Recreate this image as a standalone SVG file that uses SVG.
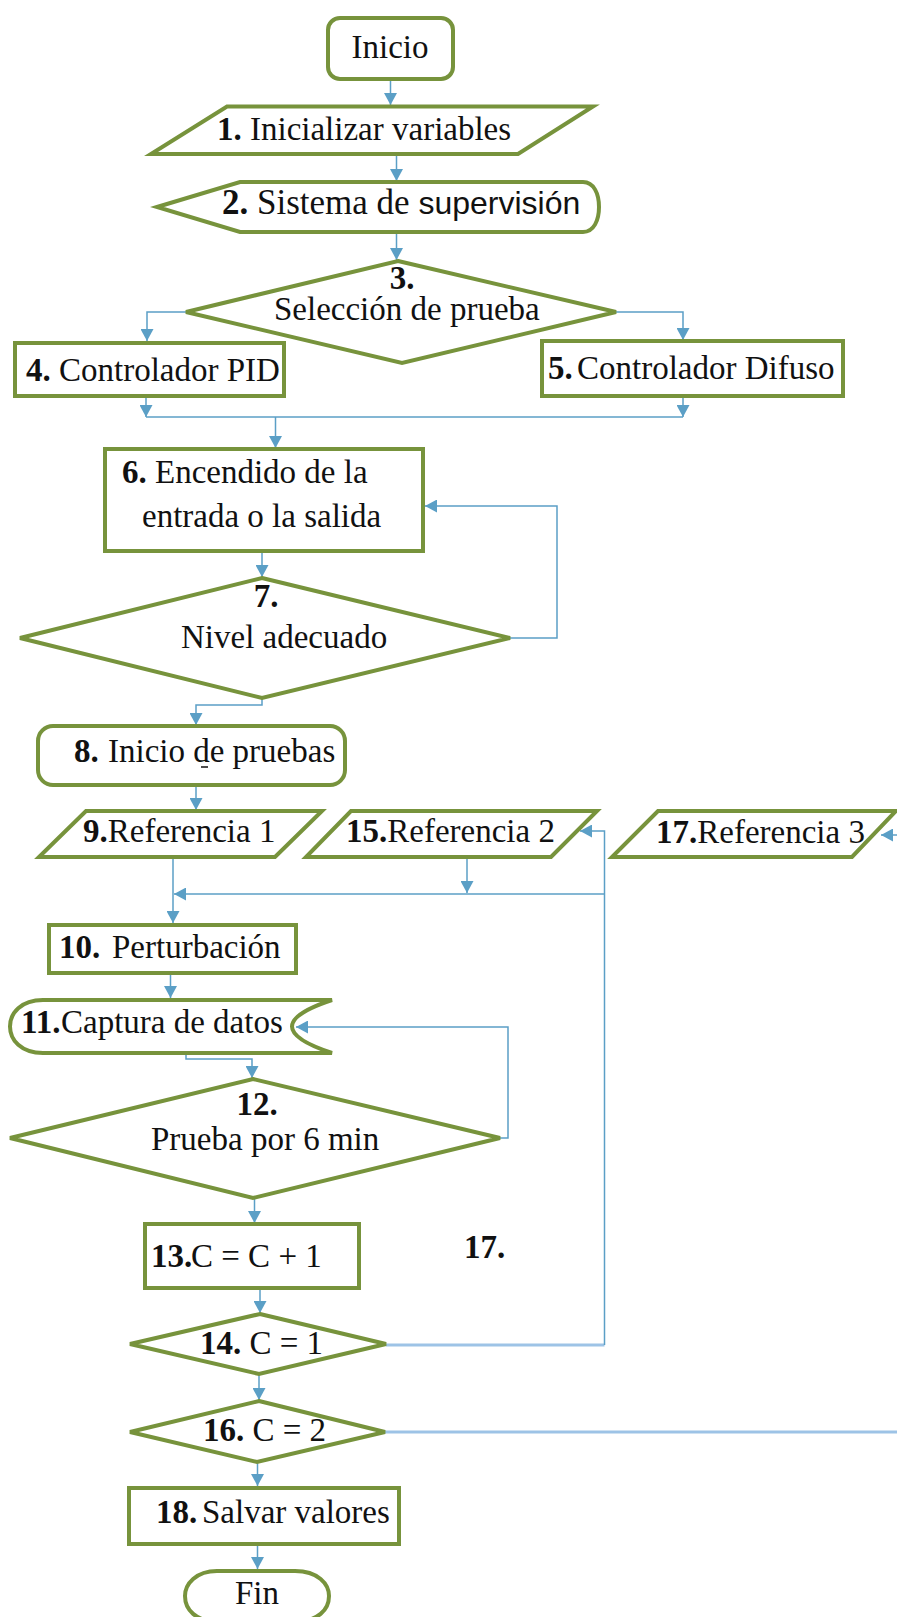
<svg xmlns="http://www.w3.org/2000/svg" width="897" height="1617" viewBox="0 0 897 1617">
<defs>
<marker id="ah" markerUnits="userSpaceOnUse" markerWidth="12" markerHeight="13" refX="12" refY="6.5" orient="auto">
<path d="M0,0 L12,6.5 L0,13 Z" fill="#5b9fc6"/>
</marker>
<style>
.n{fill:#fff;stroke:#77933c;stroke-width:4;stroke-linejoin:miter}
.t{font-family:"Liberation Serif","Times New Roman",serif;font-size:33px;fill:#111}
.b{font-weight:bold}
.s{font-family:"Liberation Sans",Arial,sans-serif;font-size:32px}
.c{fill:none;stroke:#5b9fc6;stroke-width:1.5;marker-end:url(#ah)}
.cn{fill:none;stroke:#5b9fc6;stroke-width:1.5}
.cl{fill:none;stroke:#9dc3e6;stroke-width:3}
</style>
</defs>
<rect width="897" height="1617" fill="#fff"/>

<g id="connectors">
<path class="c" d="M390.5,80 V105"/>
<path class="c" d="M396.5,154 V181"/>
<path class="c" d="M396.5,232 V260"/>
<path class="c" d="M186,312 H147 V341"/>
<path class="c" d="M616,312 H683 V340"/>
<path class="cn" d="M146,417 H683"/>
<path class="c" d="M146,396 V417"/>
<path class="c" d="M683,396 V417"/>
<path class="c" d="M275.5,417 V448"/>
<path class="c" d="M262,551 V577"/>
<path class="c" d="M510,638 H557 V506 H425"/>
<path class="c" d="M262,698 V705 H196 V725"/>
<path class="c" d="M196,785 V810"/>
<path class="c" d="M173,857 V923"/>
<path class="c" d="M467,857 V893"/>
<path class="c" d="M604,894 H174"/>
<path class="cl" d="M386,1345 H604.5"/>
<path class="c" d="M604.5,1345 V831 H580"/>
<path class="c" d="M170.5,973 V998"/>
<path class="c" d="M186,1053 V1059 H252 V1078"/>
<path class="c" d="M500,1138 H508 V1027 H296"/>
<path class="c" d="M254.5,1198 V1223"/>
<path class="c" d="M260,1288 V1313"/>
<path class="c" d="M259,1374 V1400"/>
<path class="cl" d="M385,1432 H897"/>
<path class="c" d="M897,835 H881"/>
<path class="c" d="M257.5,1462 V1486"/>
<path class="c" d="M257.5,1544 V1569"/>
</g>

<g id="inicio">
<rect class="n" x="328" y="18" width="125" height="61" rx="12"/>
<text class="t" x="390" y="58" text-anchor="middle">Inicio</text>
</g>
<g id="n1">
<polygon class="n" points="227,106.5 593,106.5 518,154 151,154"/>
<text class="t" x="217" y="140"><tspan class="b">1.</tspan> Inicializar variables</text>
</g>
<g id="n2">
<path class="n" d="M157,207 L240,182 L583,182 C594,182 599,194 599,207 C599,220 594,232 583,232 L240,232 Z"/>
<text class="t" x="222" y="214" style="font-size:35px"><tspan class="b">2.</tspan> Sistema de <tspan class="s">supervisión</tspan></text>
</g>
<g id="n3">
<polygon class="n" points="398,261 616,312 402,363 186,312"/>
<text class="t b" x="402" y="289" text-anchor="middle">3.</text>
<text class="t" x="274" y="320">Selección de prueba</text>
</g>
<g id="n4">
<rect class="n" x="15" y="343" width="269" height="53"/>
<text class="t" x="26" y="381"><tspan class="b">4.</tspan> Controlador PID</text>
</g>
<g id="n5">
<rect class="n" x="542" y="341" width="301" height="55"/>
<text class="t" x="548" y="379"><tspan class="b">5.</tspan><tspan x="577">Controlador Difuso</tspan></text>
</g>
<g id="n6">
<rect class="n" x="105" y="449" width="318" height="102"/>
<text class="t" x="122" y="483"><tspan class="b">6.</tspan> Encendido de la</text>
<text class="t" x="142" y="527">entrada o la salida</text>
</g>
<g id="n7">
<polygon class="n" points="262,578 510,638 262,698 20,638"/>
<text class="t b" x="266" y="607" text-anchor="middle">7.</text>
<text class="t" x="181" y="648">Nivel adecuado</text>
</g>
<g id="n8">
<rect class="n" x="38" y="726" width="307" height="59" rx="15"/>
<text class="t" x="74" y="762"><tspan class="b">8.</tspan><tspan x="108">Inicio de pruebas</tspan></text>
<line x1="201" y1="767" x2="208" y2="767" stroke="#111" stroke-width="1.5"/>
</g>
<g id="n9">
<polygon class="n" points="86,811 322,811 275,857 39,857"/>
<text class="t" x="83" y="842"><tspan class="b">9.</tspan>Referencia 1</text>
</g>
<g id="n15">
<polygon class="n" points="351,811 597,811 551,857 306,857"/>
<text class="t" x="346" y="842"><tspan class="b">15.</tspan>Referencia 2</text>
</g>
<g id="n17">
<polygon class="n" points="658,811 896,811 852,857 612,857"/>
<text class="t" x="656" y="843"><tspan class="b">17.</tspan>Referencia 3</text>
</g>
<g id="n10">
<rect class="n" x="49" y="925" width="247" height="48"/>
<text class="t" x="59" y="958"><tspan class="b">10.</tspan><tspan x="112">Perturbación</tspan></text>
</g>
<g id="n11">
<path class="n" d="M43,1000 H332 Q252,1026.5 332,1053 H43 C21,1053 10,1040 10,1026.5 C10,1013 21,1000 43,1000 Z"/>
<text class="t" x="21" y="1033"><tspan class="b">11.</tspan><tspan x="61">Captura de datos</tspan></text>
</g>
<g id="n12">
<polygon class="n" points="253,1079 500,1138 253,1198 10,1138"/>
<text class="t b" x="257" y="1115" text-anchor="middle">12.</text>
<text class="t" x="151" y="1150">Prueba por 6 min</text>
</g>
<g id="n13">
<rect class="n" x="145" y="1224" width="214" height="64"/>
<text class="t" x="151" y="1267"><tspan class="b">13.</tspan><tspan x="191">C = C + 1</tspan></text>
</g>
<g id="lbl17">
<text class="t b" x="464" y="1258">17.</text>
</g>
<g id="n14">
<polygon class="n" points="260,1314 386,1344 259,1374 130,1344"/>
<text class="t" x="200" y="1354"><tspan class="b">14.</tspan> C = 1</text>
</g>
<g id="n16">
<polygon class="n" points="259,1401 385,1432 257,1462 130,1432"/>
<text class="t" x="203" y="1441"><tspan class="b">16.</tspan> C = 2</text>
</g>
<g id="n18">
<rect class="n" x="129" y="1488" width="270" height="56"/>
<text class="t" x="156" y="1523"><tspan class="b">18.</tspan><tspan x="202">Salvar valores</tspan></text>
</g>
<g id="fin">
<path class="n" d="M217,1571 L295,1571 C318,1571 329,1584 329,1596 C329,1610 318,1621 295,1622 L217,1622 C196,1621 185,1610 185,1596 C185,1584 196,1571 217,1571 Z"/>
<text class="t" x="235" y="1604">Fin</text>
</g>
</svg>
